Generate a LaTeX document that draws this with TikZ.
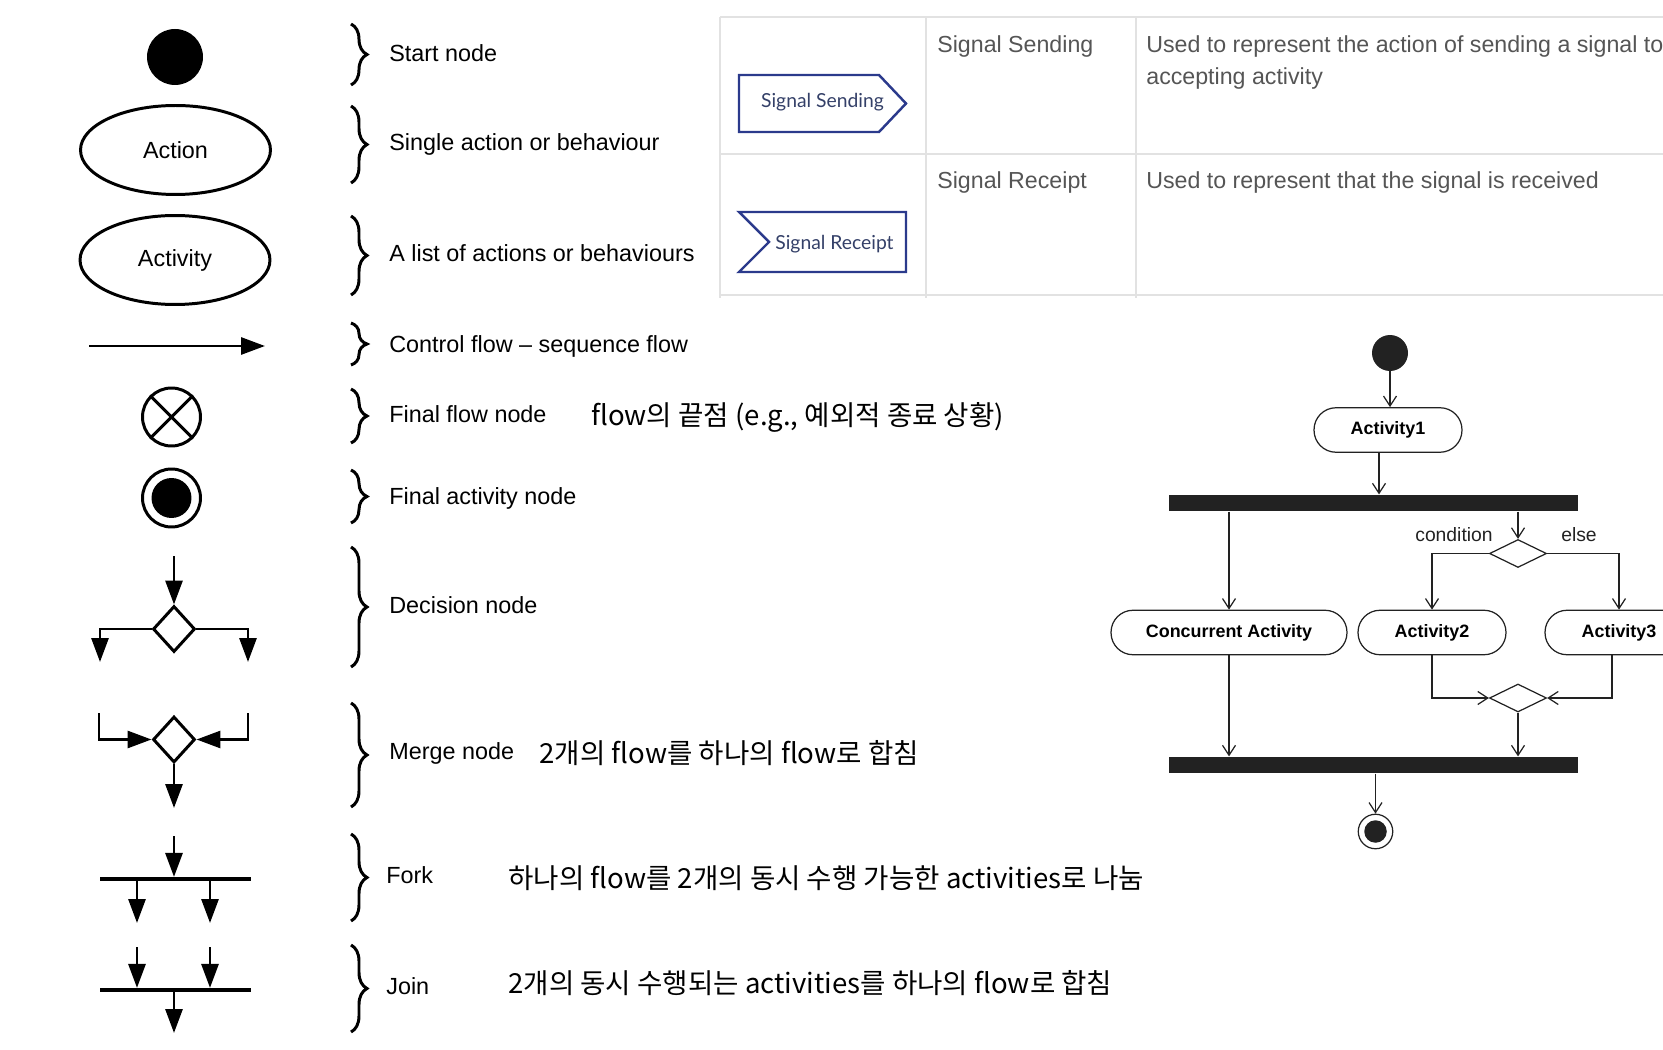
\documentclass[tikz,border=0pt]{standalone}
\usepackage{fontspec}
\setmainfont{Liberation Sans}
\newfontfamily\kor{Noto Sans CJK KR}
\newfontfamily\lato{Lato}
\usetikzlibrary{arrows.meta,positioning,shapes.geometric,decorations.pathreplacing}
\definecolor{sigblue}{RGB}{43,58,140}
\definecolor{sigtext}{RGB}{52,64,104}
\definecolor{gridgray}{RGB}{226,226,226}
\definecolor{tabtext}{RGB}{85,85,85}
\definecolor{uml}{RGB}{34,34,34}

\begin{document}
\begin{tikzpicture}[x=0.02cm,y=-0.02cm,
  sym/.style={line width=1.7pt},
  fat/.style={-{Triangle[length=0.48cm,width=0.34cm]},line width=1.7pt},
  brc/.style={decorate,decoration={brace,amplitude=0.32cm},line width=1.7pt},
  lbl/.style={anchor=base west,inner sep=0pt,font=\fontsize{13.3}{15}\selectfont},
  kr/.style={anchor=base west,inner sep=0pt,font=\kor\fontsize{15.7}{18}\selectfont},
  oval/.style={draw,ellipse,line width=1.7pt,minimum width=3.8cm,minimum height=1.78cm,font=\fontsize{13.3}{15}\selectfont},
  gate/.style={diamond,draw,line width=1.7pt,minimum width=0.84cm,minimum height=0.92cm,inner sep=0pt},
  hbar/.style={fill,inner sep=0pt,minimum width=3.02cm,minimum height=0.07cm},
  cell/.style={anchor=base west,inner sep=0pt,text=tabtext,font=\fontsize{13.2}{15}\selectfont},
  sig/.style={anchor=center,text=sigtext,font=\lato\fontsize{11}{13}\selectfont},
  act/.style={draw=uml,line width=0.7pt,rounded corners=0.44cm,minimum height=0.89cm,font=\bfseries\fontsize{10.2}{12}\selectfont},
  thin/.style={draw=uml,line width=0.7pt,-{Straight Barb[length=0.2cm,width=0.26cm]}},
  bar/.style={fill=uml,inner sep=0pt,minimum width=8.18cm,minimum height=0.33cm},
  udia/.style={diamond,draw=uml,line width=0.7pt,minimum width=1.14cm,minimum height=0.56cm,inner sep=0pt},
  ]
\useasboundingbox (0,0) rectangle (1663,1050);

\node[circle,fill,minimum size=1.12cm,inner sep=0pt] (st) at (175,57) {};
\node[oval] (act) at (175.5,150) {Action};
\node[oval] (acy) at (175,260) {Activity};
\coordinate (cf1) at (89,346);
\coordinate (cf2) at (265,346);
\draw[fat] (cf1) -- (cf2);
\node[circle,draw,sym,minimum size=1.16cm,inner sep=0pt] (ffn) at (171.5,417) {};
\draw[sym] (ffn.north west) -- (ffn.south east) (ffn.north east) -- (ffn.south west);
\node[circle,draw,sym,minimum size=1.16cm,inner sep=0pt] (fan) at (171.5,498) {};
\node[circle,fill,minimum size=0.8cm,inner sep=0pt] (fdot) at (fan) {};

\node[gate] (dec) at (174,629) {};
\coordinate (din) at (174,556);
\coordinate (dl) at (100,662);
\coordinate (dr) at (248,662);
\draw[fat] (din) -- (dec);
\draw[fat] (dec) -| (dl);
\draw[fat] (dec) -| (dr);

\node[gate] (mrg) at (174,739.5) {};
\coordinate (ml) at (99,713);
\coordinate (mr) at (248,713);
\coordinate (mo) at (174,808);
\draw[fat] (ml) |- (mrg);
\draw[fat] (mr) |- (mrg);
\draw[fat] (mrg) -- (mo);

\node[hbar] (fb) at (175.5,879) {};
\coordinate (fi) at (174,836);
\coordinate (fo1) at (137,923);
\coordinate (fo2) at (210,923);
\draw[fat] (fi) -- (fi |- fb.north);
\draw[fat] (fo1 |- fb.south) -- (fo1);
\draw[fat] (fo2 |- fb.south) -- (fo2);

\node[hbar] (jb) at (175.5,990) {};
\coordinate (ji1) at (137,947);
\coordinate (ji2) at (210,947);
\coordinate (jo) at (174,1033);
\draw[fat] (ji1) -- (ji1 |- jb.north);
\draw[fat] (ji2) -- (ji2 |- jb.north);
\draw[fat] (jb.south -| jo) -- (jo);

\foreach \ya/\yb in {24/85,106/183,216/295,323/365,389/443,470/523,547/667,703/807,834/921,945/1032}
  \draw[brc] (351,\ya) -- (351,\yb);

\node[lbl] (l1) at (389,62) {Start node};
\node[lbl] (l2) at (389,150.5) {Single action or behaviour};
\node[lbl] (l3) at (389,262) {A list of actions or behaviours};
\node[lbl] (l4) at (389,353) {Control flow -- sequence flow};
\node[lbl] (l5) at (389,423) {Final flow node};
\node[lbl] (l6) at (389,504) {Final activity node};
\node[lbl] (l7) at (389,613) {Decision node};
\node[lbl] (l8) at (389,759) {Merge node};
\node[lbl] (l9) at (386,883) {Fork};
\node[lbl] (l10) at (386,994) {Join};

\node[kr] (k1) at (591,426) {flow의 끝점 (e.g., 예외적 종료 상황)};
\node[kr] (k2) at (539,763) {2개의 flow를 하나의 flow로 합침};
\node[kr] (k3) at (508,888) {하나의 flow를 2개의 동시 수행 가능한 activities로 나눔};
\node[kr] (k4) at (508,993) {2개의 동시 수행되는 activities를 하나의 flow로 합침};

\draw[gridgray,line width=1.1pt] (720,17) -- (1663,17) (720,154) -- (1663,154) (720,295) -- (1663,295);
\draw[gridgray,line width=1.1pt] (720,17) -- (720,298) (926,17) -- (926,298) (1136,17) -- (1136,298);
\draw[sigblue,line width=1.4pt] (739,75) -- (879,75) -- (906,103.5) -- (879,132) -- (739,132) -- cycle;
\node[sig] (snd) at (822.5,102) {Signal Sending};
\draw[sigblue,line width=1.4pt] (739,212) -- (906,212) -- (906,272) -- (739,272) -- (769,242) -- cycle;
\node[sig] (rcp) at (834.5,244) {Signal Receipt};
\node[cell] (c1) at (937,53) {Signal Sending};
\node[cell] (c2) at (1146,53) {Used to represent the action of sending a signal to};
\node[cell] (c3) at (1146,85) {accepting activity};
\node[cell] (c4) at (937,189) {Signal Receipt};
\node[cell] (c5) at (1146,189) {Used to represent that the signal is received};

\node[circle,fill=uml,minimum size=0.72cm,inner sep=0pt] (ini) at (1390,353) {};
\node[act,minimum width=2.96cm] (a1) at (1388,430) {Activity1};
\node[bar] (fk) at (1373.5,503) {};
\node[act,minimum width=4.72cm] (cc) at (1229,632.5) {Concurrent Activity};
\node[act,minimum width=2.96cm] (a2) at (1432,632.5) {Activity2};
\node[act,minimum width=2.96cm] (a3) at (1619,632.5) {Activity3};
\node[udia] (dc) at (1518,553.5) {};
\node[udia] (mg) at (1518,698) {};
\node[bar] (jn) at (1373.5,765) {};
\node[circle,draw=uml,line width=0.7pt,minimum size=0.69cm,inner sep=0pt] (fin) at (1375.5,831.5) {};
\node[circle,fill=uml,minimum size=0.45cm,inner sep=0pt] (fdt) at (fin) {};
\node[text=uml,font=\fontsize{11}{12}\selectfont] (cnd) at (1454,535) {condition};
\node[text=uml,font=\fontsize{11}{12}\selectfont] (els) at (1579,535) {else};

\draw[thin] (ini) -- (ini |- a1.north);
\draw[thin] ([xshift=-0.18cm]a1.south) -- ([xshift=-0.18cm]a1.south |- fk.north);
\draw[thin] (fk.south -| cc) -- (cc);
\draw[thin] (fk.south -| dc) -- (dc);
\draw[thin] (dc.west) -| (a2);
\draw[thin] (dc.east) -| (a3);
\draw[thin] (a2) |- (mg);
\draw[thin] ([xshift=-0.14cm]a3.south) |- (mg);
\draw[thin] (mg) -- (mg |- jn.north);
\draw[thin] (cc) -- (cc |- jn.north);
\draw[thin] (jn.south -| fin) -- (fin);
\end{tikzpicture}
\end{document}
